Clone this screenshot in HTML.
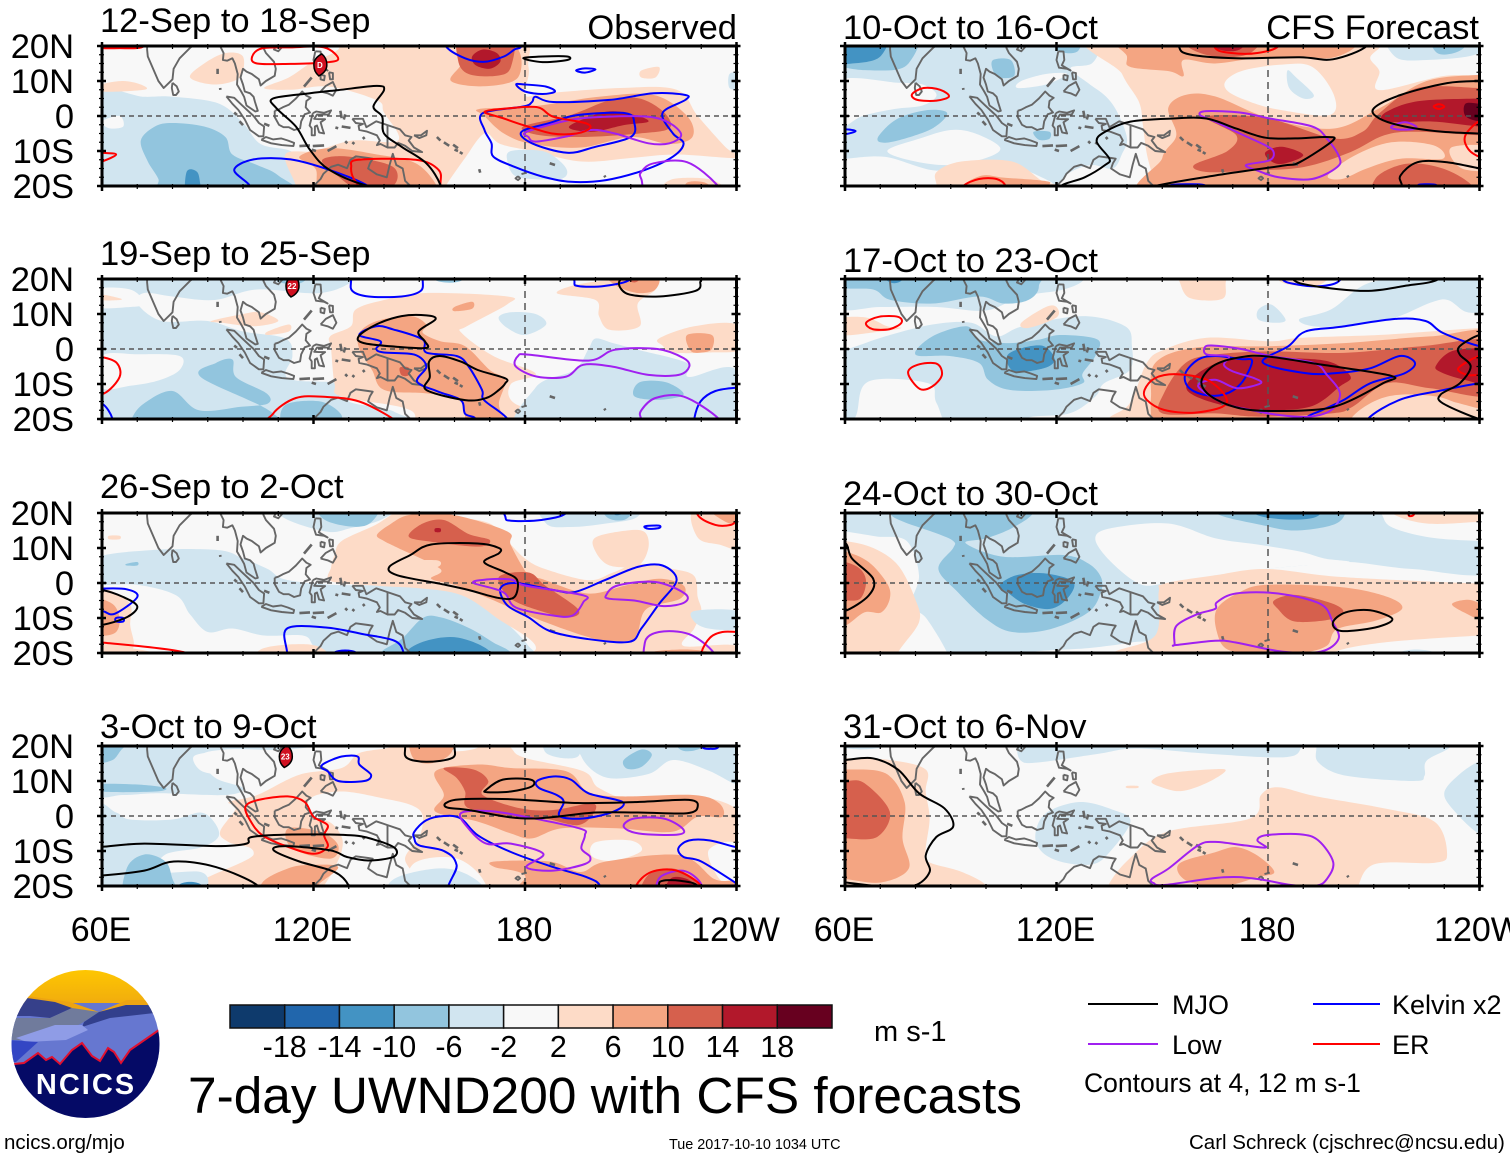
<!DOCTYPE html>
<html lang="en">
<head>
<meta charset="utf-8">
<title>7-day UWND200 with CFS forecasts</title>
<style>
html,body{margin:0;padding:0;background:#fff;}
svg{display:block;font-family:"Liberation Sans",sans-serif;}
</style>
</head>
<body>
<svg id="chart" xmlns="http://www.w3.org/2000/svg" width="1510" height="1159" viewBox="0 0 1510 1159">
  <rect width="1510" height="1159" fill="#fff"/>
  <g id="panels"></g>

  <g>
    <defs>
      <clipPath id="logoClip"><ellipse cx="85.5" cy="1044" rx="74" ry="74"/></clipPath>
      <linearGradient id="sky" x1="0" y1="0" x2="0" y2="1"><stop offset="0" stop-color="#ffc800"/><stop offset="1" stop-color="#eda412"/></linearGradient>
    </defs>
    <g clip-path="url(#logoClip)">
      <rect x="8" y="968" width="155" height="46" fill="url(#sky)"/>
      <rect x="8" y="1003" width="155" height="65" fill="#6677d0"/>
      <polygon points="8,1000 27,998 55,1002 72,1010 99,1012 126,1005 165,1005 165,1000 127,1000 99,1012 70,1002 27,996" fill="#eda412"/>
      <polygon points="27,998 55,1002 72,1008 50,1018 30,1016 12,1016" fill="#36408a"/>
      <polygon points="12,1018 50,1018 72,1008 99,1012 82,1023 50,1040 10,1040" fill="#707b9c"/>
      <polygon points="99,1012 126,1005 152,1005 155,1013 110,1018 82,1027 84,1022" fill="#323f8c"/>
      <polygon points="16,1038 55,1025 82,1025 88,1030 66,1040 27,1042" fill="#8f9ce6"/>
      <polygon points="8,1040 38,1042 16,1062 8,1062" fill="#3346c4"/>
      <polygon points="8,1063 14,1064 24,1063 38,1053 46,1060 52,1057 60,1064 72,1050 82,1043 92,1056 100,1061 108,1048 114,1052 121,1063 130,1050 159,1030 170,1028 170,1125 8,1125" fill="#050a66"/>
      <polyline points="8,1063 14,1064 24,1063 38,1053 46,1060 52,1057 60,1064 72,1050 82,1043 92,1056 100,1061 108,1048 114,1052 121,1063 130,1050 159,1030 170,1028" fill="none" stroke="#e01030" stroke-width="2"/>
    </g>
    <text x="86" y="1094" text-anchor="middle" font-size="29" font-weight="bold" fill="#fff" letter-spacing="2">NCICS</text>
  </g>

  <g id="colorbar"></g>
  <text x="874" y="1041" font-size="29">m s-1</text>
  <text x="188" y="1113" font-size="51.4">7-day UWND200 with CFS forecasts</text>

  <g>
    <line x1="1088" y1="1004" x2="1158" y2="1004" stroke="#000" stroke-width="2"/>
    <text x="1172" y="1014" font-size="27">MJO</text>
    <line x1="1313" y1="1004" x2="1380" y2="1004" stroke="#0000ff" stroke-width="2"/>
    <text x="1392" y="1014" font-size="27">Kelvin x2</text>
    <line x1="1088" y1="1044" x2="1158" y2="1044" stroke="#a020f0" stroke-width="2"/>
    <text x="1172" y="1054" font-size="27">Low</text>
    <line x1="1313" y1="1044" x2="1380" y2="1044" stroke="#ff0000" stroke-width="2"/>
    <text x="1392" y="1054" font-size="27">ER</text>
    <text x="1084" y="1092" font-size="26.5">Contours at 4, 12 m s-1</text>
  </g>
  <text x="4" y="1149" font-size="20.5">ncics.org/mjo</text>
  <text x="669" y="1149" font-size="14.4">Tue 2017-10-10 1034 UTC</text>
  <text x="1189" y="1149" font-size="20.5">Carl Schreck (cjschrec@ncsu.edu)</text>
</svg>
<script>
/* ---------- shared axis data ---------- */
const lonTicks = [60, 120, 180, 240];
const lonTickLabels = ["60E", "120E", "180", "120W"];
const latTicks = [20, 10, 0, -10, -20];
const latTickLabels = ["20N", "10N", "0", "10S", "20S"];
const colorbarLevels = ["-18", "-14", "-10", "-6", "-2", "2", "6", "10", "14", "18"];
const colorbarFills = ["#0e3a6c", "#2166ac", "#4393c3", "#92c5de", "#d1e5f0", "#f8f8f8", "#fddbc7", "#f4a582", "#d6604d", "#b2182b", "#67001f"];
const panelTitles = ["12-Sep to 18-Sep", "19-Sep to 25-Sep", "26-Sep to 2-Oct", "3-Oct to 9-Oct", "10-Oct to 16-Oct", "17-Oct to 23-Oct", "24-Oct to 30-Oct", "31-Oct to 6-Nov"];

/* ---------- coastlines, lon/lat pairs ---------- */
const coastLines = [
  [72.8,21,72.8,19,73,17,74.5,13.5,76,10,77.5,8,79,9.5,80,10.5,80.3,13.5,82,16.5,85,19.5,87,21],
  [80,9.5,81.2,8.5,81.8,7,81,6,80.2,6,79.8,8,80,9.5],
  [93,21,94.5,18,94.3,16,95.5,15.8,97,16.5,97.7,15,98.5,12,98.3,9,99.5,7,100.3,5.5,101,3,103.5,1.3,104.2,1.5,103.4,4,103,5.5,102,6.5,100.5,7,100,9,99.3,11,100,13.5,101,12.7,102.5,12,104.5,10.5,105,8.7,106.5,10,109,11.5,109.3,13.5,108.8,15.5,106.5,18,105.8,19.5,106,21],
  [110.5,19.9,111,19.6,110,18.5,108.8,19,109.3,19.9,110.5,19.9],
  [95.3,5.6,97.5,5.2,100,2.8,103,0,104.5,-2,106,-3,105.8,-5.8,104.5,-5.8,102,-4,100.5,-1,98.7,1.7,97,3.5,95.3,5.6],
  [105.2,-6.8,106.5,-6,108.5,-6.7,110.8,-6.4,112.7,-7,114.5,-7.7,114.3,-8.6,111,-8.3,108,-7.8,105.2,-6.8],
  [109,1.5,110,1.8,111.3,2.5,113,3.2,115,5,116.8,7,118,5.8,119.2,5.2,118,4.3,117.8,2.5,119,1,117.5,0.5,116.5,-1.5,116.2,-3.5,114.5,-4,113,-3.2,111.5,-3.2,110.2,-2.5,109,-0.3,109,1.5],
  [119.8,0.8,120.8,1.3,123,0.9,125,1.6,124.3,0.4,121,0.4,120.2,-0.8,121.5,-0.9,123.3,-0.9,122,-1.8,122.5,-3.5,123,-5,121.6,-4.7,121,-2.7,120.4,-3,120.4,-5.5,119.5,-5.5,119.5,-3.5,118.9,-2.7,119.8,0.8],
  [120.5,18.5,122,18.4,122.2,16,121.5,14.5,124,13,123,13.5,120.7,13.8,120,16,120.5,18.5],
  [122,7,123.5,8.6,125.5,9.7,126.5,7.5,125.5,5.8,124,6.5,122,7],
  [122,11.8,123.2,11.5,123,10.2,122,10.5,122,11.8],
  [124.4,12.5,125.5,12.3,125.5,10.5,124.7,10.5,124.4,12.5],
  [131,-0.8,134,-0.8,135,-3.2,137.8,-1.5,141,-2.6,144.5,-3.8,146,-5.5,147.8,-6,147,-7,148.5,-9,150.8,-10.3,148,-10,146,-8.5,144,-7.7,143,-9,141,-9,139,-8,138,-8.3,138.8,-7,138,-5.5,135,-4.4,133,-4,132.8,-2.8,134,-2.3,132,-2,131,-0.8],
  [141,-2.6,141,-9],
  [119,-21,122,-18,122.8,-16.5,125,-14.5,127,-13.9,129.5,-14.9,130.5,-12.5,132,-11.5,135.5,-12,136.8,-12.2,136,-13.5,135.5,-15,138,-16.7,140.8,-17.5,141.6,-14,142.5,-10.8,143.5,-14,145.3,-15,146,-18.5,147,-19.5,148.8,-21],
  [148.5,-5.5,150.5,-5.5,152.2,-4.2,152,-5.5,150,-6.3,148.5,-5.5],
  [178,-17.2,178.6,-17.8,178,-18.3,177.3,-17.8,178,-17.2],
  [179,-16.6,180.5,-16.2]
];
const islandDashes = [
  [92.8,12,92.8,13.5],[93.5,8,93.6,7.5],[97.5,1,98.3,0.3],[99,-1.5,100,-2.6],[106,-2.2,107.5,-2.8],
  [116,-8.6,119,-8.4],[119.8,-8.6,123,-8.4],[119.5,-9.6,120.7,-10],[124,-10,126.5,-8.6],
  [128,-3,130.5,-3.4],[126.2,-3.3,127,-3.5],[127.6,1.5,128,-0.6],[128.6,-1,129,0.5],
  [117.3,8.4,119.5,11],[131,-7.5,131.6,-8],[134,-6,134.5,-6.6],[155,-6,156,-7],[157,-7.5,158.5,-8.5],
  [159.6,-8.2,161,-9.2],[160,-9.6,161,-10],[161.5,-10.3,162.3,-10.8],[167,-15.2,167.3,-16.2],[187,-13.5,188.5,-14],
  [202.5,-17,202.8,-17.5],[129,-7.2,129.6,-7.8],[152,20,154,21]
];

/* ---------- panel 1 ---------- */
const p1Shade = [
  [-1,[55,6,72,5.5,80,5.5,93,3.6,100,-2,105,-8,113.5,-10,119,-14.5,127,-20,128,-25,55,-25]],
  [0,[60,-1.5,65,0,66,-3,62,-3.5]],
  [-2,[71,-7,75,-3,80,-2,89,-3,95,-6,97,-11,104,-14,110,-17,116,-24,78,-24,76,-18,73,-13]],
  [-3,[84,-16,87,-16,88,-20,89,-24,84,-24]],
  [-1,[130,24,131,19,137,17,146,17.5,152,20,153,24]],
  [-2,[134,24,136,20,141,18.5,147,19,148,24]],
  [1,[85,11,89,15,95,18,100,17,99,11,92,9]],
  [1,[60,9,66,10,71,9,72,7.5,60,7]],
  [1,[106,8,113,11,119,15,127,19,130,25,176,25,181,14,180,6,186,6.5,207,8,223,7.5,229,0,237,-9,241,-12,223,-11,210,-12,196,-13,182,-10,173,-8,168.5,-5,163,-12,157.5,-20,155,-25,115,-25,115,-20,112,-11,120.5,-10,131,-7,144,-7,140,1,138,4.5,124.5,8.4,113.5,7.5]],
  [1,[213,13,218,14,217,11,213,11]],
  [1,[222,-18,232,-18,236,-21,220,-21]],
  [-1,[176,-10,185,-10,190,-13,192,-16,190,-18,182,-18,177,-17,175,-13]],
  [-1,[238,12,241,12,241,8,238,8]],
  [2,[159,10,162,15,162,20,177,20,178,11,168.5,8.5]],
  [3,[162,24,161,16,164,12,172,11.5,176,14,176,24]],
  [4,[165,17,168,19,172,18,173,15.5,170,13.5,166,14.5]],
  [2,[167,2,182,2.7,201,5.5,216.5,6,226,0,227.5,-6,221,-8,210,-6,196,-9,182,-8,174,-5,168.5,0]],
  [3,[179.5,-3,193,0.3,204,4.5,212.5,5,219.5,1,221,-3.5,212.5,-5,196,-6,183.6,-5.4]],
  [4,[192.5,-3,203,1.2,211,0.3,215,-1.6,208,-2.6,199,-4.5]],
  [2,[116,-11.6,124.5,-9.2,138,-11,149,-13.5,155,-20,155,-24,124.5,-23,120.5,-15]],
  [3,[122.5,-12.5,130,-11.6,142.5,-14.5,142.5,-20,133,-21,126,-16.4]],
  [2,[226,-19,231,-19,234,-22,226,-22]]
];
const p1Mjo = [
  [108.5,5,119,6.5,127,7.4,138,8.6,140,7.4,137,2.7,139.5,-0.2,140,-5,145,-8.8,152,-13.5,156,-19.7,156,-24,135.5,-20,124.5,-15.4,119,-9.7,115,-3,109.5,2.2],
  [179.5,16.5,185,17,192,17,192,16,185,15.4]
];
const p1Kelvin = [
  [157.5,20,163,16.5,168.5,15.5,174,17,177,19,179,20,180,25,157,25],
  [194.5,13,197,13.6,200,13.3,197,12.4],
  [177.5,9,180,9,186,8.4,188.5,7,185,6.3,180,7],
  [168,0.8,179.5,2.7,182,4,183,5.5,188,4,204,4.6,216.5,6.5,225.5,6,225.5,4.6,219,0.8,222,-5,225,-7.8,222,-11.6,214,-15.4,203,-18.3,193,-18.8,185,-17.3,177,-14.5,171,-11.6,170.5,-7.8,168.5,-4],
  [179,-4.5,187,-2,195,0.3,208.5,0.8,211,-2,210,-6,200,-8.8,192,-10.5,182,-7.8],
  [97.5,-15.4,103,-12.4,113.5,-12.4,124.5,-15.4,135.5,-20,138,-24,102,-24,102,-20]
];
const p1Low = [
  [180.5,-4.5,193,-1.1,203,-0.2,215,-0.2,221,-2,224.3,-5.4,221,-7.8,215,-7.8,205.5,-5,198.7,-4,191.5,-5.9,183,-7.3,181,-6],
  [213,-16,216.5,-13.5,226,-13.2,234.5,-19.7,236,-24,216.5,-24,213,-18]
];
const p1Er = [
  [58,20,65,19.4,72,20,72,25,58,25],
  [102.6,17,105.4,19.3,113.5,19.6,123,19.6,127,16.2,122,15.2,113.5,14.9,104,15],
  [56,-10,60,-10.5,64,-11,60,-13,56,-14],
  [168.5,1.2,175.4,2.2,183.6,2.5,188,-0.2,197,-2,198.4,-3.5,194.6,-5,187.7,-5,179.5,-2.6,174,-0.7],
  [130.7,-14.5,132.8,-12.5,149,-12.5,155.5,-15.4,156,-19.7,156,-24,138,-24,132,-18.8]
];
const p1Storm = [121.8, 14.6, "D"];

/* ---------- panel 2 ---------- */
const p2Shade = [
  [-1,[58,25,134,25,132,20,122,16,104,17,92,14,80,15,72,16,70,13,77,8,90,8,100,5,112,3,114,-2,112,-7,115,-9,128,-10,130,-15,143,-18,148,-25,58,-25]],
  [0,[60,-2,70,-1.5,82,-2,82,-6,76,-9,68,-10.5,60,-11]],
  [0,[58,17,68,17,72,13,68,12,58,12]],
  [-2,[88,-8,92.3,-4,97,-3,98,-8,106.7,-12.7,107,-15.6,99.5,-16.5,87.5,-17.5,80,-12,72,-15.5,68.4,-20,68,-25,110,-25,108,-18]],
  [-2,[112,-16,122,-15,128,-19,125,-22,112,-22]],
  [-2,[108,25,109,20,114,18.5,118,20,118,25]],
  [-2,[153,25,154,20,160,19,164,21,164,25]],
  [1,[132,11.3,140,14,152,16,175,15,175,12.8,163.5,6.5,162,4.6,171,-2,183,-7,176,-10,177,-15.5,190,-20,190,-25,152,-25,147.5,-17.5,128,-13.6,126,-10,125,0,124.7,3.6,130.6,6.5]],
  [1,[91,8,100,10,105,10.5,110,8,103,6.5,94,7.5]],
  [1,[107,5,113,7,113,5,107,4]],
  [1,[60,15.5,65,14.5,65,14,60,14]],
  [1,[189,16,198,19,215.7,20,217,17,212,13,212.5,6.5,204,5.5,201,9.4,200,14]],
  [1,[218,3,228,6.5,240,7,242,0,232,-1,222,-1,219,1]],
  [-1,[172.5,9,176,10.5,183,10,186,7,180,4,175,6]],
  [-1,[200,3,205,1.7,212,-0.2,226,-4,226.5,-8,240,-6,242,-25,181,-25,183,-11,194,-6,198,0]],
  [-2,[212.5,-9.5,220,-9.5,225,-13,218,-14.5,211,-13.5]],
  [2,[133,4.6,138,8,147.5,9.4,152,7,151,4.6,156,2.2,163,0.8,170,-6,174.4,-8.8,172.6,-15.6,174,-20,174,-25,164,-25,162,-14.6,152,-12.7,140,-11.7,136.6,-6,133,0]],
  [2,[204,21,206,18,212,16,217,17,217,21]],
  [3,[207,21,211,19,213,21]],
  [2,[226,4,233,4,233,0,230,-1,227,-0.5]],
  [2,[160,12,165,13.5,165,11.5,160,10.8]],
  [3,[144.5,-5.3,147,-5.3,147,-7.5,145,-7.5]]
];
const p2Mjo = [
  [132.8,3.6,137.8,7,145,9.4,152,9.6,154.6,8.5,149.8,5,151.6,2.2,152,0.3,144,0.6,134.3,1.7],
  [152.8,-3.6,155.8,-2,161.8,-3.6,166.6,-6,174.4,-8.4,174.4,-9.8,172.6,-11.7,169,-14,163,-14.6,152,-11.7,153,-8],
  [208.5,16,218,15,228.3,16.6,229.7,19,228,20.5,208.5,20.5]
];
const p2Kelvin = [
  [130.6,20,131,16.6,135.6,15,145,15,150.4,16.6,151,20,151,25,130,25],
  [194,19.5,195,18,202.5,18,210,20,210,25,194,25],
  [133,4,137.8,6.5,142.6,5.6,151,2.7,152,-1,160.6,-2,164,-5,167.8,-11.7,168.4,-14.6,175,-20,175,-25,166,-25,166,-20,163,-18.5,161.8,-14.6,155.4,-12.2,149.4,-9.3,152,-5,148.6,-1.6,140,-1,137.8,0,139,2.2],
  [228,-20,229.8,-15,234,-12,240.5,-11,245,-11,245,-25,228,-25],
  [60,-15.6,63,-20,63,-25,55,-25,55,-15]
];
const p2Low = [
  [178,-2,181,-1.6,198,-3.3,205.6,-0.2,217.6,0,225,-2.6,226.6,-5,223.6,-7.4,215,-7.4,204.6,-5,196.5,-4.5,191.7,-7.9,183.4,-7.9,177.4,-5],
  [213,-17.5,217,-14,225,-13.6,235,-20,236,-25,215.7,-25,213,-20]
];
const p2Er = [
  [60,-2.3,64.2,-4,65,-8,60.6,-12.7,55,-13,55,-2],
  [108.5,-18.5,115,-14,123.5,-13.7,133,-15,142.6,-20,145,-23,108.5,-23]
];
const p2Storm = [113.9, 18, "22"];

/* ---------- panel 3 ---------- */
const p3Shade = [
  [1,[56,-1,62,-2,68,-6,68,-12,69,-18,66,-21,56,-25]],
  [2,[58,-5,63,-6,65,-10,64,-14,60,-15,58,-13]],
  [-1,[58,7,74,9.4,93,9.4,100,7,107,4,112,1,125,-0.5,140,-0.7,159,-1.6,170,-7.4,181,-18,183,-25,125,-25,120,-18,117,-15,106,-15,97,-13,90,-14,85,-9,81,-3.5,70,-0.5,58,0]],
  [-1,[109,25,111,19,123.5,14.7,130.6,15.7,140,18.5,147,25]],
  [-2,[121,25,122,19,128,16.5,135,16.5,139,21,139,25]],
  [-2,[67,5.5,70,6,70,5,67,5]],
  [-1,[185,25,186,17,193,16,203,17,212,19,212,25]],
  [-2,[201,25,203,19,208,18,211,21,211,25]],
  [-3,[204,25,205,20,207,19.5,209,21,209,25]],
  [-2,[139,-20,145,-16,151,-10,156,-9.8,164.4,-13,171,-17,176,-20,176,-25,139,-25]],
  [-3,[146,-20,152,-16.5,161,-15.6,170,-19.5,170,-25,146,-25]],
  [1,[128,12,137.6,16.6,145,21,152,21,160,19,170,17,175,12,180,7,185.7,4,198,0.8,205,3,212,5.5,222,4,228,2,229,-4,230,-8,228,-13,225,-18,240,-18,240,-25,165,-25,183,-19,172,-10,162,-3.5,150,-1.5,138,-0.8,125,0.5,125,4.5,126,8]],
  [1,[200,13,209,15,214,14.5,215,10,212,5,204,5,200,9]],
  [1,[228,21,229,13,235,11,242,10,242,21]],
  [1,[62,13.5,65,13.5,65,12.5,62,12.5]],
  [1,[56,-18,75,-20,75,-25,56,-25]],
  [1,[104,-25,105,-19,118,-17.5,124,-20,124,-25]],
  [-1,[228,-8,240,-8,240,-13,232,-13,228,-11]],
  [2,[138,13.7,141.5,16.6,147.5,19.5,159.4,19.5,175,14.7,176,10.8,181,2.2,184.6,1.2,197.7,-3,208.5,-0.7,218,1.2,225,-0.7,224,-4.5,214.5,-7.4,212,-14,209.6,-16.5,200,-16,183.4,-10.3,170,-4.5,160.6,-0.7,153.4,1.2,156,4,144,10,140,12]],
  [1,[145,6,155,6.5,155,4.5,146,4]],
  [2,[216,-20,225,-19,233,-20,230,-23]],
  [2,[233,20,238,17,242,17,242,21,233,21]],
  [3,[147,13.3,151,17,157,18,164,14,170,12.3,167,10.4,153.4,11.8]],
  [3,[172.6,1.7,181,3,185.7,-0.7,195,-7.4,193,-9.8,185.7,-8.4,176,-4.5]],
  [4,[154.5,15.6,156,15.6,156,14.6,154.5,14.6]]
];
const p3Mjo = [
  [141.5,4.6,147.5,8,153.4,11,166.6,11.3,172.6,10,172.6,8.5,168.4,6,174,3.2,177.8,0.8,177,-4,172.6,-4.3,164,-2,155.8,-0.2,143.8,2.2],
  [60,-2,66,-4,70,-6.7,67,-9.8,60,-12,55,-12,55,-2]
];
const p3Kelvin = [
  [173,-1.6,177.3,0,188,-2,194,-2.6,202.6,0.8,212,4.6,219,5,223,0.8,218,-6,213,-13,209.6,-16.8,197.7,-16,187,-13.7,181,-9.8,175,-6.4],
  [174.4,19,176,17.8,184.6,18,191.7,20,192,25,174,25],
  [214,16.2,218,16.4,218,15.7,215,15.5],
  [60,-1.6,67,-1.8,70,-4,63.6,-8.8,60,-8,55,-8,55,-2],
  [64,-10,66,-10,66,-11,64,-11],
  [112.5,-13,123.5,-12.7,134,-14.6,143,-16.5,145.6,-20,146,-25,112.5,-25,112.5,-20],
  [126,-20,129,-19.3,132,-20,129,-22]
];
const p3Low = [
  [165.4,0,169,1,176,1,180,-0.7,196.5,-3.5,196.5,-5.5,193.5,-9.3,188,-9.3,177.4,-7,173.8,-2.6],
  [203,-3.5,206.3,-0.7,217,0.3,225.3,-3,225.3,-5.5,219.3,-6.6,211,-5,204,-4.5],
  [214,-17,218,-14,226.5,-14.6,233.6,-20,234,-25,216,-25]
];
const p3Er = [
  [60,-17,84,-20,85,-25,56,-25,56,-17],
  [230,-20,232.5,-15.6,236,-14,240.5,-14,245,-14,245,-25,230,-25],
  [229,19.5,234,16.6,238.4,16.6,240.5,18,245,18,245,25,229,25]
];
const p3Storm = [];

/* ---------- panel 4 ---------- */
const p4Shade = [
  [1,[96,4,104,6,116,11.8,128,13.7,133,18,142.5,20,145,25,172,25,176,19.5,180,16.6,196.5,12.8,201,8,212,4,226.5,6,240,2,241,-6.5,241,-25,92,-25,103,-11,96,-7.5,93.5,-4.5,98,2.2]],
  [0,[119,5,128,7,140,5,148,3,151,0,150,-6,146,-12,148,-18,140,-25,122,-25,126,-15,128,-10,128,-6,125,-2,120,0]],
  [0,[200,-7.5,210,-7,213,-10,205,-12.8,199,-11.5]],
  [0,[157,25,158,19,165,19,168,21,168,25]],
  [0,[232,-10,240,-8,242,-20,236,-19]],
  [0,[148,-14,160,-12,168,-18,168,-25,148,-25]],
  [1,[58,-14,61,-16,62,-25,58,-25]],
  [-1,[58,25,125,25,125,21,112,19,95,19,88,17,92,11,100,8,95,6,76,6.5,66,6,58,7]],
  [0,[86,17,88,13,94,12,95,15,92,18]],
  [-1,[58,2,64,1,68,-1,80,-1,88,1,92,-2,93,-6,88,-9,78,-11,76,-16,88,-16,90,-20,86,-25,58,-25]],
  [-2,[58,25,58,16,63,16,67,20,75,20,75,25]],
  [-2,[58,9,70,9,78,8,75,7,60,7]],
  [-2,[67,-15,72,-11,78,-13,80,-18,82,-25,67,-25]],
  [-3,[80,-25,82,-19.5,88,-19.5,90,-25]],
  [-1,[197,25,196,17,203,11,215,12,222,16,232,13,240,9,245,9,245,25]],
  [-1,[186,25,186,18,195,17,195,25]],
  [-2,[208,16,213,19,216,17.5,213,14,209,13.5]],
  [-2,[222,25,224,19,230,19.5,233,25]],
  [-1,[141,-20,145,-17,155,-15,162,-16,168,-20,168,-25,141,-25]],
  [2,[154.6,12.8,166.6,14.7,176,13.7,191.7,12.8,197.7,7,207,5.6,227.7,6,235,3.7,236,-0.2,229,-0.2,221.7,-4.5,206,-3.5,190.5,-3.5,182,-6.4,176,-5,166.6,-1.6,154.6,1.2,157,6]],
  [2,[148,25,148,17,153,15,159,18,160,25]],
  [2,[112.7,-3.6,122,-4.5,127,-8.4,124.7,-12.2,114,-9.3]],
  [2,[105.5,-19,112.7,-15,118.7,-14,127,-14.6,121,-20,118,-25,105,-25]],
  [2,[171.4,-13,187,-13,195.7,-16,203,-13,224,-11.2,233.7,-18,239.6,-19,240,-25,180,-25,180,-17,171.4,-14.6]],
  [3,[157,13.7,165.4,13.3,169.6,10,168,6,178.6,2.2,188,1.7,199,3.6,199.5,0.8,195,-2.6,185.7,-0.7,177.4,-0.2,164,2.2,163,7,160.6,10.9]],
  [3,[213,-20,216,-16,222,-15,226.5,-17,230,-20,230,-23,213,-23]],
  [4,[220,-20,222,-17.5,226,-18,228,-20,226,-23,220,-23]]
];
const p4Mjo = [
  [146,19.7,146.5,16.6,152,15.5,159.4,16.6,160,20,160,25,146,25],
  [169,7.5,173.7,10.4,181.6,10.4,182,8.5,176,7,169.3,6.8],
  [157.6,3.7,162,4.8,176,4.8,195,3.7,212,4,226.5,4.6,229,2.7,226,0.8,212,1,200,1,189,-0.2,183,-0.7,176,-0.4,164,1.7,158,2.4],
  [60,-8.8,72,-7.9,92.3,-8.6,101,-7.9,102.5,-6,114,-5.3,130.6,-5.5,138,-7,143.2,-9.3,142.6,-11.7,135.5,-12.7,129.5,-11.7,124.7,-9.8,112,-8.6,108.7,-9.8,116,-13,126,-16,130,-20,130,-25,104.3,-25,104.3,-20,92.3,-14.6,80.4,-13,72,-15.6,60,-17,55,-17,55,-9],
  [218,-20,219,-18.5,224,-18.5,229,-20,229,-25,219,-25]
];
const p4Kelvin = [
  [123,15,128,17,132.5,17,133,14.7,136.3,11.8,134.4,10,127,10,124,12.8,122.3,13.7],
  [148.6,-4.5,152,-1.2,157,0,161.8,-0.7,166.6,-5.5,176,-10.3,188,-14.6,197.6,-17.5,201.3,-20,201.3,-25,160.6,-25,160.6,-14,157,-10,150,-8.4,148.6,-6.4],
  [223.5,-9.3,226.5,-7,232.5,-7,240.3,-9,245,-9,245,-20,240,-19.5,239.6,-19,230,-13,225,-11.7],
  [183.4,10,188,11.3,193,10.4,198,6.5,207.7,4,205,1.2,196.5,-0.7,189.8,0,191,4,189,6,184,8],
  [230,20,232.7,19.2,235,20,235,25,230,25]
];
const p4Low = [
  [161.8,0.8,170,1.4,180,-0.2,195.6,-3.6,197,-5.5,196,-9.3,198.5,-11.7,197,-13.7,188,-15.6,180.4,-14.6,185.2,-10.8,176,-7.9,169,-7.9,164,-3.6],
  [208,-3,211,-0.7,219.3,-0.7,224.7,-3.6,223.5,-5.3,212.3,-5],
  [217.5,-19,220,-16.5,225.5,-15.8,230,-19.5,230,-25,217.5,-25]
];
const p4Er = [
  [100.7,2.7,104.4,4.6,112.7,5.6,117.5,4,120,-0.2,124,-2.6,123,-5.5,124,-8.8,120,-10.8,112.7,-8.8,105.5,-5.5,102,-1.2],
  [211.5,-20,215.8,-16,223,-15.6,230,-20,230,-25,211.5,-25]
];
const p4Storm = [112, 17, "23"];

/* ---------- panel 5 ---------- */
const p5Shade = [
  [-1,[58,25,132.5,25,132.5,20,130,15,124,13.7,129,9.4,134,5.6,137.4,0.8,140,-6.4,138.6,-10.8,136,-15,130,-14,124,-16,119.4,-20,118,-18.6,107.4,-14,97.8,-12.7,86,-15.6,71.5,-11.7,60,-12.2,58,-12]],
  [0,[58,10,75,9.5,82,9,86,6,82,3,74,2,65,0,58,-3]],
  [0,[72,-10,81,-6.5,90,-4,97,-5,104,-9,100,-12,90,-14,80,-13]],
  [0,[109,8,117,9,123,12,117,12,110,10]],
  [-2,[58,25,80,25,78,15,70,13,58,15]],
  [-3,[58,25,72,25,70,17,62,15,58,16]],
  [-2,[69.7,-5.5,75,-0.7,83.5,1.7,89,0.8,84.7,-3.6,75,-7,70,-7.5]],
  [-2,[102,16,107,16,108,11.5,104,11,102,13]],
  [-2,[113.5,-4.5,118,-4.5,118,-6.5,115,-6.8]],
  [-2,[119,25,127,25,126,18.5,120,19]],
  [1,[134,25,138.6,12,143.4,4,144.5,-2.6,145.7,-11.2,148,-20,148,-25,245,-25,245,25]],
  [0,[168,10,173,13,184,14.7,192.6,14,198.7,6,197.5,0.3,183.7,1.7,175,4,168.7,7]],
  [0,[209,16.6,212,20,214,25,245,25,245,12.8,229.6,11.4,211.6,7.4,211.6,12.8]],
  [-1,[185.5,13,188,11,193,6,190,5,186,8]],
  [-1,[215,25,216,17,225,16,240,18,242,25]],
  [-2,[226,25,228,18,235,19,238,25]],
  [1,[86,-20,86,-16,93,-13,107.4,-13,116,-18.6,120.6,-20,120.6,-25,86,-25]],
  [2,[93.6,-20,99,-17,105,-17.6,117,-18.6,118,-20,118,-25,93.6,-25]],
  [2,[140,25,140,17,141,14,152,12.8,156,11.4,156,16,165,15,177,16.6,189,17,198,16.6,205,20,205,25]],
  [3,[156,25,157,20,165,17,175,18,178,25]],
  [4,[163,25,165,19.5,172,19,175,25]],
  [2,[151.7,2.2,156.5,6,165,5.6,180.5,-0.7,198.4,-3.6,211.6,2.2,225,10,240,11.8,245,12,245,-25,149,-25,150,-12,154,-5.5]],
  [1,[204.4,-11.4,215,-7.5,227,-8.4,229.6,-12.2,217.6,-12.2,208,-15,201,-18,197,-17]],
  [1,[232,-9,245,-9,245,-15,235,-15]],
  [3,[159,-14,168.5,-10,171,-5.5,162.6,-0.2,180,-0.7,198.4,-6.4,206.8,-4.5,211.6,0.8,222.4,8,240,8,245,8,245,-5,240,-5.5,222.4,-4.5,213,-5.5,203.4,-10.3,190,-14.6,174.5,-15.6,162.6,-16]],
  [4,[213,0.8,222.4,4.2,240,5,245,5,245,-3,240,-3,227,-1.6,214,-1.6]],
  [5,[236,3.5,240,3.5,245,3,245,-1,240,-1.5,236,0]],
  [4,[179.3,-10.3,184,-8.8,190,-11.2,184,-13.7,180.5,-12.7]],
  [3,[210.4,-18,219,-13.7,229.6,-15,238,-20,238,-25,212,-25]]
];
const p5Mjo = [
  [121.2,-20,128,-17.5,133.8,-14,135,-12.2,131.4,-7.3,133.8,-4.5,141,-1.6,153,-0.7,162.5,-0.7,171,-3.6,179.3,-6.2,187.7,-6.4,196.6,-6,198.4,-7,189,-13.2,184,-14.2,165,-17,148,-20,141,-23,121.2,-23],
  [154.7,20,157.7,17.6,171,16.5,189,16.8,198.4,16.2,208,20,208,25,155,25],
  [240.4,10,230.8,9.4,217.6,6,210,2.2,211.6,-0.7,218.8,-3,229.6,-4.5,240.4,-5,245,-5,245,10],
  [218,-20,217.6,-17,222.4,-13.2,230.8,-13.2,240.4,-15,245,-15,245,-25,218,-25]
];
const p5Kelvin = [
  [57,-4,60,-3.8,63,-4.3,60,-5.2,57,-5],
  [151.7,-20,157.7,-19.5,162.5,-20,162,-23,152,-23],
  [222.5,-20,225,-19.5,228,-20,226,-23]
];
const p5Low = [
  [160.7,0.3,162.5,1.4,172,1,180.5,-0.7,192.5,-3,196.7,-6.4,200.2,-11.7,199.6,-14.6,192.5,-18,183,-17.5,177,-15.6,173.8,-14,180.4,-12.7,181.6,-10.3,179.3,-8.4,172,-5,165,-1.6],
  [215,-3,218.8,-1.8,222,-3,221,-3.8,216.3,-3.8]
];
const p5Er = [
  [79,6.2,82.3,8,87,7.5,89.5,5.6,86,4.4,80.5,4.6],
  [165,19.5,169.6,18,177,18,183,20,183,25,165,25],
  [227,2.7,228.5,3.4,230,2.7,228.5,2],
  [240.4,-1.2,236,-5.5,236.8,-9.4,240.4,-11.8,245,-11.8,245,-1.2],
  [93.6,-20,98,-18,103,-18,105.6,-20,105.6,-23,93.6,-23]
];
const p5Storm = [];

/* ---------- panel 6 ---------- */
const p6Shade = [
  [-1,[58,25,129,25,128,20,122,17,110,15,100,11,86,12,70,12,58,12]],
  [-1,[60,-0.2,71.4,3.6,84.8,7,95.8,7.5,103,3.6,110.4,6.5,127.4,9.4,139.5,6.5,141.4,0.8,140.8,-6,133.5,-9.8,131,-13.6,123.7,-18.4,111.6,-19.8,111,-25,92,-25,86,-15.5,83.6,-9.8,66.6,-9.3,63,-19.3,58,-25,55,-25,55,0]],
  [-2,[58,25,112,25,115,18,112,14,105,13,98,15,85,13,73,14,68,17,58,18]],
  [-2,[80,-1.6,84.8,3.6,94.5,6.5,98,2.7,106.7,1.7,115,2.7,121.3,4,131.7,2.7,131,-2,127.4,-7,127.4,-9.8,119,-11.7,106.7,-11.7,100.6,-8.8,98,-4,89.7,-2]],
  [-3,[106,-2,110.4,0.3,116.4,0.8,119.5,-3,116.4,-5.5,108,-6.4]],
  [-3,[70,25,78,25,76,19.5,72,19.5]],
  [-1,[177.3,11.3,181,12.7,185,8.4,182,7.5,177.3,8.4]],
  [-1,[188.8,8.4,197.9,11.3,209,19,226,20,240,20,245,20,245,10.3,240,10.3,235.7,10.8,231,14,226,13.2,214,8.4,195.5,6.3]],
  [1,[154,25,155,19,158,14.5,167,14.3,168,19,168,25]],
  [1,[58,8.5,66,9,72,6.5,76,6,70,5,58,4]],
  [1,[110,7.5,117,12,120,12,120,9,112,6]],
  [1,[181,25,184,19,195,18.5,198,25]],
  [1,[134.7,-20,140.8,-15.5,145.6,-4,150.5,-0.2,162.7,3.2,180.5,2.2,189.4,3.2,211.3,4,226,5,240,6,245,6,245,-25,134.7,-25]],
  [2,[146.8,-20,146.8,-13.6,148,-4,159,0.3,180.5,0.8,201.6,1.7,226,3.6,245,4,245,-18,228,-13.6,213.8,-13.6,204,-19.3,204,-25,146.8,-25]],
  [1,[228,-15,240,-17,245,-18,245,-25,232,-25]],
  [3,[150,-18.4,150.5,-12.6,156.6,-4,165,-1.6,180.5,-0.7,201.6,-1.1,223.5,0.8,245,2,245,-13,226,-11.2,213.8,-9.8,204,-16.5,198,-18.4,177.3,-19.3,165,-18.4]],
  [4,[157,-11.7,160.2,-6.9,170,-2.6,183.4,-2.6,197,-3.5,203.4,-7.8,200.4,-10.7,191.9,-16.5,177.3,-17.4,165,-15.5]],
  [4,[227.8,-4.5,232,-0.7,240.5,0.3,245,0,245,-10,235.7,-8.8,228.6,-6.4]]
];
const p6Mjo = [
  [161.2,-8.8,165,-4.5,172.4,-2.3,179.7,-2.1,195.5,-4.5,215,-7.7,212.6,-9.8,201.6,-15.5,193,-17.4,177.3,-17.6,168.8,-16,162.7,-12.6],
  [187,20,193,18,207.7,16.6,218.6,18,228.4,20,228,25,187,25],
  [240,4,234.4,0.8,234.4,-1.6,237.5,-5,234.4,-9.8,229,-13,229.6,-15.5,240,-20,245,-20,245,4]
];
const p6Kelvin = [
  [184,20,188.5,18.4,195.5,18,200.4,19.7,201,25,184,25],
  [178.5,-3.8,185.8,0.8,190.6,5,200.4,6.3,216.2,8.6,224.7,8,229.6,4.6,240,0.8,245,0.8,245,-9.8,240,-9.8,228.4,-12,217.4,-14.5,208.3,-20,208,-25,190.6,-25,190.6,-20,195.5,-17.4,201.6,-14.5,209,-9.8,218.6,-7,221.7,-4,217.4,-2,209,-5.5,199.2,-6.9,190.6,-6.9],
  [175.5,-3.5,172.4,-9.8,167.5,-13,161.5,-13,157.2,-10.7,156.6,-6.9,160.2,-3,165,-2,172.4,-2.9]
];
const p6Low = [
  [162,0.3,164,1,172.4,0,180.7,-2,193,-4,196.7,-7.4,200.4,-12.6,198,-17.4,191.9,-19.3,183.4,-18.9,175,-17.4,167.5,-15.5,160.2,-10.7,165,-8.8,171.2,-11.2,177.9,-9.8,176,-8.3,170,-6.4,167.5,-4.5,168.8,-2.1,162.7,-1.6]
];
const p6Er = [
  [66,7.5,69.6,9.2,75,9.2,76,7.5,72.7,5.7,67.8,5.7],
  [77.9,-6.9,80.6,-4.5,86,-4.2,87.5,-7.4,84.8,-10.7,81.2,-11.4],
  [145,-11.7,148,-8.3,154.2,-7.2,162.7,-8.8,168,-13.6,167,-16.5,159,-18.2,150.5,-17.4,145.6,-14.5],
  [240,-2,234,-5.5,236.5,-7.4,240,-7.4,245,-7.4,245,-2]
];
const p6Storm = [];

/* ---------- panel 7 ---------- */
const p7Shade = [
  [-1,[55,25,245,25,245,3.7,221,4,203,6,190,5,179,4,165,2.2,150.5,-0.2,150.5,-14.6,141,-17,129,-18.6,112,-20,112,-25,89.5,-25,89,-20,83,-10,78.7,-6.4,81,2.2,77.5,12,69,13.3,60,14.7,55,15]],
  [0,[135,6.5,131,12.8,135.7,15.7,151.7,17,165,12.8,177,11,189,9,196,7,203,6,190,5,179,4,165,2.2,150.5,-0.2,143.4,-0.2]],
  [0,[208,25,212,20,215,16,226,13,240,12,245,12,245,25]],
  [1,[212,25,215,20,225,17,240,17.5,245,18,245,25]],
  [-2,[165,20,178,16.6,187.6,15,198.4,16.6,202,20,202,25,165,25]],
  [-3,[176,20,183,18.3,191,18.3,195,20,195,25,176,25]],
  [-2,[72.7,20,76.3,17.6,85.9,14.2,90.7,12,90.7,10,86.5,4,92,-2.6,100.2,-10.4,107.4,-14,118.2,-13.2,129,-8.4,132.6,-2.6,132.6,1.7,129,5.6,121.8,8,105,7.5,94.2,11.4,100.2,12.8,107.4,15.7,113.4,20,113,25,72,25]],
  [-3,[103.8,-0.7,108.6,2.2,117,2.7,124.8,0.3,123,-4.5,118.2,-7.4,111,-6,106,-2.6]],
  [1,[60,12,68,10,75.1,5,79.9,-4.5,81,-11.2,75,-20,75,-25,55,-25,55,12]],
  [2,[60,9,66.7,6,72,-0.2,72.7,-4.5,70.3,-8.4,65.5,-8.4,60,-12.2,55,-12,55,9]],
  [3,[60,6,64.3,4,66,0.3,64.3,-4.5,60,-5,55,-5,55,6]],
  [1,[150.5,-0.2,165,2.2,179.7,4,201,1.7,240.4,-0.2,245,0,245,-15,240,-15,212.8,-17,198.4,-20,198,-25,136,-25,136,-20,148,-15,149,-2.6]],
  [2,[165.5,-7.4,172,-2.6,180,-0.5,201,-1.2,214,-4,218,-7.4,210.4,-10.8,199.6,-13.2,196.6,-18,188.9,-20,177,-20,168.5,-19,165.5,-14]],
  [3,[181.7,-5,187.6,-3.4,197.2,-5.5,201.4,-8,198.4,-10.3,187.6,-11,182.8,-7.4]],
  [2,[232.2,-6,236.7,-4.8,240.4,-6.4,240.4,-10.3,235.6,-8.4]],
  [-1,[217.6,-20,222,-19,227,-20,222,-23]]
];
const p7Mjo = [
  [60,11.5,62,7,68,1.2,66.7,-3.6,60,-8,55,-8,55,11.5],
  [198.4,-11.3,202,-8.4,209,-7.8,215.3,-10.3,210.4,-12.7,200.8,-13.7]
];
const p7Kelvin = [];
const p7Low = [
  [153.5,-17.4,154,-12.3,160,-8.9,165,-7.4,165.5,-5.5,170.9,-3,182.9,-3,194.9,-6,198.4,-11.3,200,-16,195,-19.6,184,-19.6,170.9,-17,165,-16.5,154,-17.7]
];
const p7Er = [
  [220,20,221.5,20,221,19.2,220,19.2]
];
const p7Storm = [];

/* ---------- panel 8 ---------- */
const p8Shade = [
  [-1,[108.6,20,109.9,15.8,114.7,15.3,132,17.8,142.8,19.3,163.1,17.8,184.7,16.8,189.5,19.7,190,25,108,25]],
  [-1,[193.7,20,194.3,15.3,202.2,11.5,221.4,10,224.4,11.5,225,15.8,232,20,232,25,193,25]],
  [-1,[240.4,15.8,234.4,12,230,6.6,233,1.3,239.8,-5,245,-5,245,16]],
  [-1,[114,-5.5,117,0.8,126.6,4,136.2,1.7,141,-1.6,135,-10.4,130.2,-13.8,121.8,-13.2,116,-10.4]],
  [-1,[58,25,72,25,72,20,60,19.5]],
  [1,[60,16.5,72.7,16,82.9,13.3,82.9,7,84,-0.7,82.9,-9.4,83.5,-13,93.2,-16,100.2,-20,100,-25,55,-25,55,16.5]],
  [2,[60,13.3,71.5,12.2,76.9,4,76.3,-6.4,78.1,-15,70.2,-19,60,-18,55,-18,55,13]],
  [3,[60,10,65.5,9.4,72.7,1.2,69.1,-6,60,-6.4,55,-6,55,10]],
  [1,[147,10,151.8,12.2,165,13.4,167.9,12.8,162.5,9.4,155.3,7.1,149.3,8.4]],
  [1,[140,8.6,143,8.6,143,8,140,8]],
  [1,[178,6,182.8,8.2,193.7,5.6,212.8,2.2,227.2,-1.6,230.8,-10.8,227.2,-13.4,210.4,-13.7,205.6,-20,205,-25,134.6,-25,134.6,-20,140.6,-12.3,151.4,-4.5,174.9,-0.7]],
  [2,[154.7,-13.7,164.9,-10.4,171,-8.9,177,-11.3,181.8,-16,177,-17.5,167.4,-20,157,-18.6]]
];
const p8Mjo = [
  [60,16,67.9,16.5,75.1,13.2,81,6.5,88.2,2.2,90.7,-3,85.9,-6,82.9,-11.3,84,-16,79.3,-20,69,-20,60,-19,55,-19,55,16]
];
const p8Kelvin = [];
const p8Low = [
  [147,-18,151.8,-15,160.2,-8.4,165,-7.4,173.4,-8.4,179.4,-9,177,-7,179.4,-5.5,189,-5.2,194.3,-7,198.5,-13.2,196.7,-18,193.7,-19.9,186.5,-19.7,177,-18,167.4,-17.5,150.6,-19.7,147.6,-19.2]
];
const p8Er = [];
const p8Storm = [];

/* ---------- panel wiring ---------- */
const panelShades = [p1Shade, p2Shade, p3Shade, p4Shade, p5Shade, p6Shade, p7Shade, p8Shade];
const panelMjo = [p1Mjo, p2Mjo, p3Mjo, p4Mjo, p5Mjo, p6Mjo, p7Mjo, p8Mjo];
const panelKelvin = [p1Kelvin, p2Kelvin, p3Kelvin, p4Kelvin, p5Kelvin, p6Kelvin, p7Kelvin, p8Kelvin];
const panelLow = [p1Low, p2Low, p3Low, p4Low, p5Low, p6Low, p7Low, p8Low];
const panelEr = [p1Er, p2Er, p3Er, p4Er, p5Er, p6Er, p7Er, p8Er];
const panelStorms = [p1Storm, p2Storm, p3Storm, p4Storm, p5Storm, p6Storm, p7Storm, p8Storm];

/* ---------- layout and scales ---------- */
const NS = "http://www.w3.org/2000/svg";
const COL_LEFT = [102, 845];
const ROW_TOP = [46, 279, 513, 746];
const TITLE_BASE = [[32, 265, 498, 738], [39, 272, 505, 738]];
const PW = 634.5, PH = 140;

function xScale(left, lon) { return left + (lon - 60) * PW / 180; }
function yScale(top, lat) { return top + (20 - lat) * PH / 40; }

function levelFill(level) {
  if (level === 0) return "#f8f8f8";
  return colorbarFills[5 + level];
}

function make(tag, attrs, parent) {
  const el = document.createElementNS(NS, tag);
  for (const k in attrs) el.setAttribute(k, attrs[k]);
  parent.appendChild(el);
  return el;
}

function smoothClosed(flat, left, top) {
  const pts = [];
  for (let i = 0; i < flat.length; i += 2) pts.push([xScale(left, flat[i]), yScale(top, flat[i + 1])]);
  const n = pts.length;
  let d = "M" + pts[0][0].toFixed(1) + "," + pts[0][1].toFixed(1);
  for (let i = 0; i < n; i++) {
    const p0 = pts[(i - 1 + n) % n], p1 = pts[i], p2 = pts[(i + 1) % n], p3 = pts[(i + 2) % n];
    const c1x = p1[0] + (p2[0] - p0[0]) / 6, c1y = p1[1] + (p2[1] - p0[1]) / 6;
    const c2x = p2[0] - (p3[0] - p1[0]) / 6, c2y = p2[1] - (p3[1] - p1[1]) / 6;
    d += "C" + c1x.toFixed(1) + "," + c1y.toFixed(1) + " " + c2x.toFixed(1) + "," + c2y.toFixed(1) + " " + p2[0].toFixed(1) + "," + p2[1].toFixed(1);
  }
  return d + "Z";
}

function straight(flat, left, top) {
  let d = "";
  for (let i = 0; i < flat.length; i += 2) {
    d += (i ? "L" : "M") + xScale(left, flat[i]).toFixed(1) + "," + yScale(top, flat[i + 1]).toFixed(1);
  }
  return d;
}

function drawContours(parent, list, color, name, left, top) {
  list.forEach(function (flat) {
    const path = make("path", { d: smoothClosed(flat, left, top), fill: "none", stroke: color, "stroke-width": 2, "stroke-linejoin": "round" }, parent);
    
    
  });
}

function drawPanel(index) {
  const col = index < 4 ? 0 : 1;
  const row = index % 4;
  const left = COL_LEFT[col];
  const top = ROW_TOP[row];
  const root = document.getElementById("panels");

  const g = make("g", {}, root);
  
  

  const clip = make("clipPath", { id: "clip" + index }, g);
  make("rect", { x: left, y: top, width: PW, height: PH }, clip);

  const body = make("g", { "clip-path": "url(#clip" + index + ")" }, g);
  
  

  const bg = make("rect", { x: left, y: top, width: PW, height: PH, fill: "#f8f8f8" }, body);
  
  

  panelShades[index].forEach(function (item) {
    const region = make("path", { d: smoothClosed(item[1], left, top), fill: levelFill(item[0]) }, body);
    
    
  });

  coastLines.forEach(function (flat) {
    const coast = make("path", { d: straight(flat, left, top), fill: "none", stroke: "#666", "stroke-width": 1.9, "stroke-linejoin": "round" }, body);
    
    
  });
  islandDashes.forEach(function (flat) {
    const island = make("path", { d: straight(flat, left, top), fill: "none", stroke: "#666", "stroke-width": 2.6 }, body);
    
    
  });

  const eq = make("line", { x1: left, x2: left + PW, y1: yScale(top, 0), y2: yScale(top, 0), stroke: "#555", "stroke-width": 1.5, "stroke-dasharray": "5 4" }, body);
  
  
  const dl = make("line", { x1: xScale(left, 180), x2: xScale(left, 180), y1: top, y2: top + PH, stroke: "#555", "stroke-width": 1.5, "stroke-dasharray": "7 5" }, body);
  
  

  drawContours(body, panelKelvin[index], "#0000ff", "kelvin-contour", left, top);
  drawContours(body, panelLow[index], "#a020f0", "low-contour", left, top);
  drawContours(body, panelEr[index], "#ff0000", "er-contour", left, top);
  drawContours(body, panelMjo[index], "#000000", "mjo-contour", left, top);

  const storm = panelStorms[index];
  if (storm.length) {
    const sx = xScale(left, storm[0]), sy = yScale(top, storm[1]);
    const mark = make("g", {}, body);
    
    
    make("path", { d: "M" + (sx + 2) + "," + (sy - 11) + "q-8,4 -8,11 q0,7 5,11 q8,-4 8,-11 q0,-7 -5,-11Z", fill: "#d01020", stroke: "#000", "stroke-width": 1.5 }, mark);
    const st = make("text", { x: sx, y: sy + 3, "text-anchor": "middle", "font-size": 8, "font-weight": "bold", fill: "#fff" }, mark);
    st.textContent = storm[2];
  }

  const frame = make("rect", { x: left, y: top, width: PW, height: PH, fill: "none", stroke: "#000", "stroke-width": 3 }, g);
  
  

  for (let lon = 60; lon <= 240; lon += 10) {
    const x = xScale(left, lon);
    const major = lonTicks.indexOf(lon) >= 0;
    [top, top + PH].forEach(function (edge) {
      const tick = make("line", { x1: x, x2: x, y1: edge - (major ? 4 : 2), y2: edge + (major ? 5 : 3), stroke: "#000", "stroke-width": major ? 2.5 : 1.2 }, g);
      
      
    });
  }
  for (let lat = -20; lat <= 20; lat += 2.5) {
    const y = yScale(top, lat);
    const major = latTicks.indexOf(lat) >= 0;
    [left, left + PW].forEach(function (edge) {
      const tick = make("line", { x1: edge - (major ? 5 : 3), x2: edge + (major ? 4 : 2), y1: y, y2: y, stroke: "#000", "stroke-width": major ? 2.5 : 1.2 }, g);
      
      
    });
  }

  if (col === 0) {
    latTicks.forEach(function (lat, i) {
      const label = make("text", { x: 74, y: yScale(top, lat) + 12, "text-anchor": "end", "font-size": 34.5 }, g);
      
      
      label.textContent = latTickLabels[i];
    });
  }
  if (row === 3) {
    lonTicks.forEach(function (lon, i) {
      const label = make("text", { x: xScale(left, lon) - 1, y: 941, "text-anchor": "middle", "font-size": 34 }, g);
      
      
      label.textContent = lonTickLabels[i];
    });
  }

  const title = make("text", { x: left - 2, y: TITLE_BASE[col][row], "font-size": 34.5 }, g);
  
  
  title.textContent = panelTitles[index];
}

for (let i = 0; i < 8; i++) drawPanel(i);

/* source labels, top row */
(function () {
  const root = document.getElementById("panels");
  const obs = make("text", { x: 737, y: 39, "text-anchor": "end", "font-size": 34.5 }, root);
  
  
  obs.textContent = "Observed";
  const cfs = make("text", { x: 1479, y: 39, "text-anchor": "end", "font-size": 34.5 }, root);
  
  
  cfs.textContent = "CFS Forecast";
})();

/* colorbar */
(function () {
  const bar = document.getElementById("colorbar");
  const x0 = 230, y0 = 1005, h = 23, w = 602 / colorbarFills.length;
  colorbarFills.forEach(function (fill, i) {
    const box = make("rect", { x: x0 + i * w, y: y0, width: w, height: h, fill: fill, stroke: "#111", "stroke-width": 1.5 }, bar);
    
    
  });
  colorbarLevels.forEach(function (label, i) {
    const t = make("text", { x: x0 + (i + 1) * w, y: 1057, "text-anchor": "middle", "font-size": 30.5 }, bar);
    
    
    t.textContent = label;
  });
})();
</script>
</body>
</html>
